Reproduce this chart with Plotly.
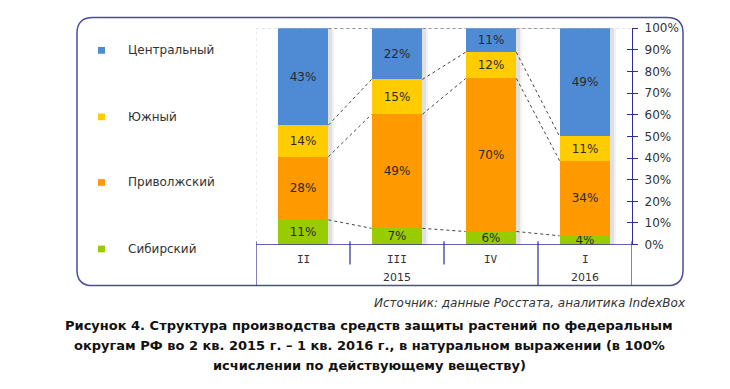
import plotly.graph_objects as go

# ---------------- data ----------------
regions = ["Сибирский", "Приволжский", "Южный", "Центральный"]   # bottom -> top
quarters = ["II", "III", "IV", "I"]
year_labels = ["2015", "2016"]
year_spans = [(0, 2), (3, 3)]
sib = [11, 7, 6, 4]
pri = [28, 49, 70, 34]
yuz = [14, 15, 12, 11]
cen = [43, 22, 11, 49]
colors = ["#99CC00", "#FF9900", "#FFCC00", "#4F8BD4"]
y_ticks = list(range(0, 101, 10))

series = [sib, pri, yuz, cen]

W, H = 730, 389
def px(x):
    return x / W
def py(y):
    return 1 - y / H

FONT = "DejaVu Sans"
AXC = "#2E2E99"
BOXC = "#4B4BA0"
TXT = "#333333"
BW = 0.54

xs = list(range(len(quarters)))

fig = go.Figure()

# soft shadows behind bars
for off, a in [(0.055, 0.05), (0.04, 0.07)]:
    fig.add_trace(go.Bar(x=[x + off for x in xs], y=[100] * len(xs), width=BW,
                         marker=dict(color=f"rgba(0,0,0,{a})", line=dict(width=0)),
                         hoverinfo="skip", showlegend=False))

for name, vals, col in zip(regions, series, colors):
    fig.add_trace(go.Bar(
        x=xs, y=vals, name=name, width=BW,
        marker=dict(color=col, line=dict(width=0)),
        text=[f"{v}%" for v in vals], textposition="inside",
        insidetextanchor="middle", textangle=0, constraintext="none",
        textfont=dict(family=FONT, size=12, color="#2a2a2a"),
        showlegend=False,
    ))

# connector (series) lines computed from normalized cumulative values
totals = [sum(s[i] for s in series) for i in xs]
cums = []
acc = [0.0] * len(xs)
for s in series:
    acc = [acc[i] + s[i] * 100.0 / totals[i] for i in xs]
    cums.append(list(acc))
for c in cums:
    for i in xs[:-1]:
        fig.add_trace(go.Scatter(
            x=[i + BW / 2, i + 1 - BW / 2], y=[c[i], c[i + 1]], mode="lines",
            line=dict(color="#444444", width=1, dash="dot"),
            hoverinfo="skip", showlegend=False))

shapes = []
# rounded frame
x0, x1, y0, y1 = px(77), px(683), py(289), py(11)
rx, ry = 16 / W, 16 / H
path = (f"M {x0+rx},{y1} L {x1-rx},{y1} Q {x1},{y1} {x1},{y1-ry} "
        f"L {x1},{y0+ry} Q {x1},{y0} {x1-rx},{y0} L {x0+rx},{y0} "
        f"Q {x0},{y0} {x0},{y0+ry} L {x0},{y1-ry} Q {x0},{y1} {x0+rx},{y1} Z")
shapes.append(dict(type="path", xref="paper", yref="paper", path=path,
                   line=dict(color=BOXC, width=1.5), layer="below"))

# faint gridline at 100% and left dotted boundary
shapes.append(dict(type="line", xref="x", yref="y", x0=-0.5, x1=3.5, y0=100, y1=100,
                   line=dict(color="#cccccc", width=1, dash="dot"), layer="below"))
shapes.append(dict(type="line", xref="x", yref="y", x0=-0.5, x1=-0.5, y0=0, y1=100,
                   line=dict(color="#d8d8d8", width=1, dash="dot"), layer="below"))

# category axis lines
shapes.append(dict(type="line", xref="x", yref="y", x0=-0.5, x1=3.5, y0=0, y1=0,
                   line=dict(color=AXC, width=1.2)))
for xv, ybot in [(-0.5, 289), (0.5, 267), (1.5, 267), (2.5, 289), (3.5, 289)]:
    shapes.append(dict(type="line", xref="x", yref="paper", x0=xv, x1=xv,
                       y0=py(243), y1=py(ybot), line=dict(color=AXC, width=1.2)))

# legend markers
leg_y = [251, 182, 114, 45]
for yy, col in zip(leg_y, colors):
    shapes.append(dict(type="rect", xref="paper", yref="paper",
                       x0=px(98), x1=px(105), y0=py(yy + 3.5), y1=py(yy - 3.5),
                       fillcolor=col, line=dict(width=0)))

annotations = []
for yy, name in zip(leg_y, regions):
    annotations.append(dict(xref="paper", yref="paper", x=px(126), y=py(yy),
                            text=name, showarrow=False, xanchor="left", yanchor="middle",
                            font=dict(family=FONT, size=12, color=TXT)))
for i, q in enumerate(quarters):
    annotations.append(dict(xref="x", yref="paper", x=i, y=py(262), text=q,
                            showarrow=False, xanchor="center", yanchor="middle",
                            font=dict(family="DejaVu Sans Mono", size=11, color=TXT)))
for lab, (a, b) in zip(year_labels, year_spans):
    annotations.append(dict(xref="x", yref="paper", x=(a + b) / 2, y=py(281), text=lab,
                            showarrow=False, xanchor="center", yanchor="middle",
                            font=dict(family=FONT, size=11, color=TXT)))

annotations.append(dict(xref="paper", yref="paper", x=px(688), y=py(307),
                        text="<i>Источник: данные Росстата, аналитика IndexBox</i>",
                        showarrow=False, xanchor="right", yanchor="middle",
                        font=dict(family=FONT, size=12, color=TXT)))
title_lines = [
    "Рисунок 4. Структура производства средств защиты растений по федеральным",
    "округам РФ во 2 кв. 2015 г. – 1 кв. 2016 г., в натуральном выражении (в 100%",
    "исчислении по действующему веществу)",
]
for k, line in enumerate(title_lines):
    annotations.append(dict(xref="paper", yref="paper", x=px(369), y=py(330 + 21 * k),
                            text=f"<b>{line}</b>", showarrow=False,
                            xanchor="center", yanchor="middle",
                            font=dict(family=FONT, size=13, color="#111111")))

fig.update_layout(
    width=W, height=H,
    margin=dict(l=0, r=0, t=0, b=0),
    paper_bgcolor="white", plot_bgcolor="white",
    barmode="stack", barnorm="percent",
    showlegend=False,
    xaxis=dict(domain=[px(256), px(632)], range=[-0.5, 3.5], showgrid=False,
               zeroline=False, showticklabels=False, ticks="", showline=False,
               fixedrange=True),
    yaxis=dict(domain=[py(246.5), py(22)], range=[0, 100], side="right",
               tickvals=y_ticks, ticktext=[f"{v}%" for v in y_ticks],
               ticks="outside", ticklen=5, tickcolor=AXC, tickwidth=1.2,
               showline=True, linecolor=AXC, linewidth=1.2,
               showgrid=False, zeroline=False, anchor="x",
               tickfont=dict(family=FONT, size=12, color=TXT),
               ticklabelstandoff=4),
    yaxis2=dict(domain=[py(246.5), py(22)], range=[0, 100], overlaying="y",
                side="right", anchor="x", tickvals=y_ticks, ticks="inside",
                ticklen=5, tickcolor=AXC, tickwidth=1.2, showticklabels=False,
                showgrid=False, zeroline=False, showline=False),
    shapes=shapes, annotations=annotations,
)
# dummy trace to activate yaxis2
fig.add_trace(go.Scatter(x=[0], y=[0], yaxis="y2", mode="markers",
                         marker=dict(opacity=0), hoverinfo="skip", showlegend=False))

post = (
    "var gd=document.getElementById('{plot_id}');"
    "gd.style.position='fixed';gd.style.top='0px';gd.style.left='0px';"
    "document.documentElement.style.margin='0';document.documentElement.style.padding='0';"
    "document.body.style.margin='0';document.body.style.padding='0';"
    "document.body.style.overflow='hidden';document.documentElement.style.overflow='hidden';"
)
fig.write_html("out.html", config={"displayModeBar": False, "responsive": False},
               post_script=post)
